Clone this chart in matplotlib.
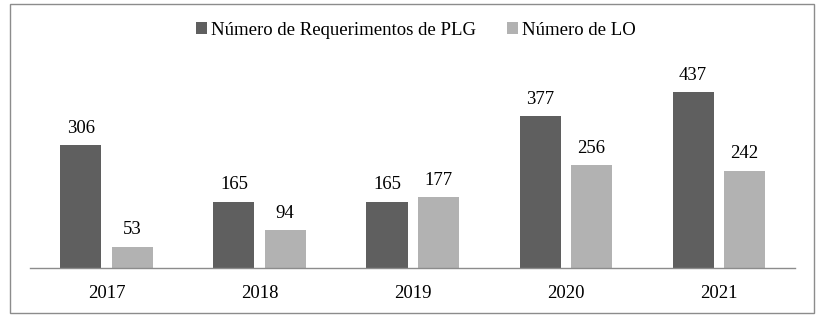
import numpy as np
import matplotlib.pyplot as plt
from matplotlib.patches import Rectangle

plt.rcParams['font.family'] = ['Liberation Serif', 'DejaVu Serif']

anos = ['2017', '2018', '2019', '2020', '2021']
requerimentos_plg = [306, 165, 165, 377, 437]
numero_lo = [53, 94, 177, 256, 242]

fig = plt.figure(figsize=(8.21, 3.21), dpi=100)
ax = fig.add_axes([0.0365, 0.165, 0.932, 0.71])

x = np.arange(len(anos))
w = 0.268
b1 = ax.bar(x - 0.167, requerimentos_plg, w, color='#5f5f5f', label='Número de Requerimentos de PLG')
b2 = ax.bar(x + 0.167, numero_lo, w, color='#b2b2b2', label='Número de LO')

for bars in (b1, b2):
    for r in bars:
        ax.annotate(str(int(r.get_height())), (r.get_x() + r.get_width() / 2, r.get_height()),
                    xytext=(0, 6), textcoords='offset points', ha='center', va='bottom',
                    fontsize=13.5, color='#000000')

ax.set_xlim(-0.5, len(anos) - 0.5)
ax.set_ylim(0, 567)
ax.set_xticks(x)
ax.set_xticklabels(anos, fontsize=13.5)
ax.tick_params(axis='x', length=0, pad=12)
ax.set_yticks([])
for s in ('top', 'left', 'right'):
    ax.spines[s].set_visible(False)
ax.spines['bottom'].set_color('#8c8c8c')
ax.spines['bottom'].set_linewidth(1.0)

fig.legend(loc='center', bbox_to_anchor=(0.506, 0.905), ncol=2, frameon=False,
           fontsize=13.5, handlelength=0.6, handleheight=0.6, handletextpad=0.2,
           columnspacing=1.65)

fig.patches.append(Rectangle((10 / 821, 8 / 321), 804 / 821, 309 / 321, transform=fig.transFigure,
                             fill=False, edgecolor='#8c8c8c', linewidth=1.0))

fig.savefig('out.png', dpi=100)
